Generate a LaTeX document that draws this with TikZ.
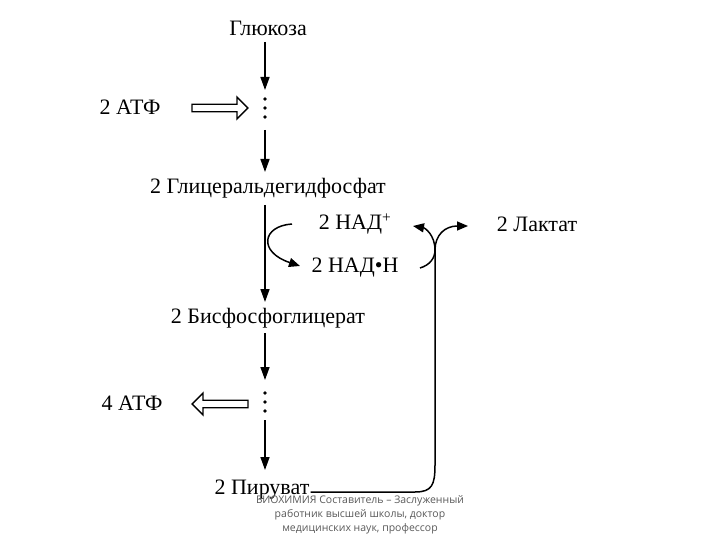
\documentclass[tikz,border=0pt]{standalone}
\usepackage{fontspec}
\setmainfont{Liberation Serif}
\newfontfamily\footfont{Open Sans}
\usetikzlibrary{arrows.meta,shapes.arrows}
\begin{document}
\begin{tikzpicture}[x=1pt,y=-1pt,
  lbl/.style={font=\fontsize{22}{24}\selectfont,inner sep=1pt},
  arr/.style={draw,line width=1.5pt,-{Triangle[length=13pt,width=9pt]}},
  hollow/.style={draw,line width=1.3pt,single arrow,minimum height=56pt,minimum width=22pt,single arrow head extend=5pt,inner sep=2pt},
  dots/.style={circle,fill,inner sep=1.4pt},
  foot/.style={font=\footfont\fontsize{10.5}{14}\selectfont,text=black!65,align=center}]
\useasboundingbox (0,0) rectangle (720,540);
\node[lbl] (glu) at (268,28) {Глюкоза};
\node[dots] at (265,99) {};\node[dots] at (265,108) {};\node[dots] at (265,117) {};
\draw[arr] (265,42) -- (265,90);
\node[lbl] (atf2) at (130,107) {2 АТФ};
\node[hollow,shape border rotate=0] (h1) at (218,108) {};
\draw[arr] (265,130) -- (265,172);
\node[lbl] (gap) at (268,188) {2 Глицеральдегидфосфат};
\draw[arr] (265,205) -- (265,302);
\node[lbl] (nad) at (355,224) {2 НАД\textsuperscript{+}};
\node[lbl] (nadh) at (355,268) {2 НАД•Н};
\draw[line width=1.5pt,-{Triangle[length=11pt,width=9pt]}] (292,224) .. controls (262,226) and (258,252) .. (300,266);
\node[lbl] (lac) at (537,224) {2 Лактат};
\node[lbl] (bpg) at (268,318) {2 Бисфосфоглицерат};
\draw[arr] (265,333) -- (265,380);
\node[dots] at (265,393) {};\node[dots] at (265,402) {};\node[dots] at (265,411) {};
\node[lbl] (atf4) at (132,403) {4 АТФ};
\node[hollow,shape border rotate=180] (h2) at (222,404) {};
\draw[arr] (265,420) -- (265,470);
\node[lbl] (pyr) at (262,490) {2 Пируват};
\coordinate (c1) at (435,250);
\draw[line width=1.5pt] (pyr.east) ++(0,2) -- (415,492) .. controls (432,492) and (435,485) .. (435,465) -- (c1);
\draw[line width=1.5pt,-{Triangle[length=11pt,width=9pt]}] (c1) .. controls (435,235) and (425,228) .. (413,226);
\draw[line width=1.5pt,-{Triangle[length=11pt,width=9pt]}] (c1) .. controls (435,235) and (445,226) .. (468,226);
\draw[line width=1.5pt] (420,268) .. controls (430,265) and (435,258) .. (c1);
\node[foot] (ft) at (360,515) {БИОХИМИЯ Составитель – Заслуженный\\работник высшей школы, доктор\\медицинских наук, профессор};
\end{tikzpicture}
\end{document}
